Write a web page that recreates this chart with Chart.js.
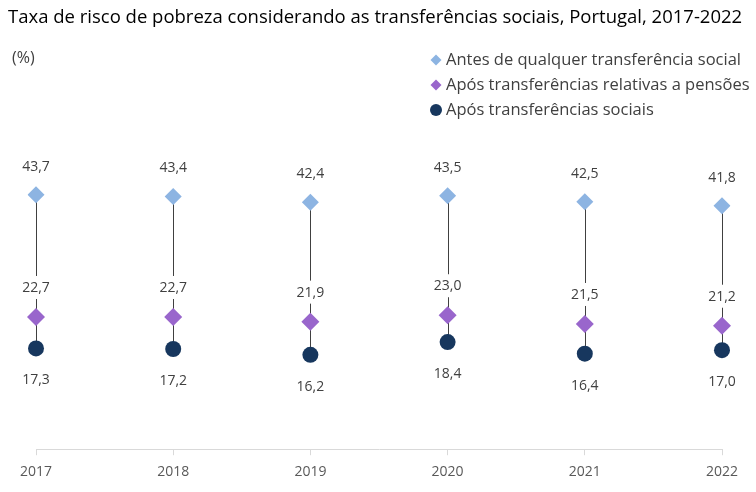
<!DOCTYPE html>
<html>
<head>
<meta charset="utf-8">
<script src="https://cdn.jsdelivr.net/npm/chart.js@4.4.0/dist/chart.umd.min.js"></script>
<style>
  body { margin: 0; background: #fff; }
  #wrap { width: 756px; height: 492px; }
</style>
</head>
<body>
<div id="wrap"><canvas id="chart" width="756" height="492"></canvas></div>
<script>
// Chart data
const years = ["2017", "2018", "2019", "2020", "2021", "2022"];
const beforeAny = [43.7, 43.4, 42.4, 43.5, 42.5, 41.8];
const afterPensions = [22.7, 22.7, 21.9, 23.0, 21.5, 21.2];
const afterSocial = [17.3, 17.2, 16.2, 18.4, 16.4, 17.0];
const seriesNames = [
    "Antes de qualquer transferência social",
    "Após transferências relativas a pensões",
    "Após transferências sociais"
];
const titleText = "Taxa de risco de pobreza considerando as transferências sociais, Portugal, 2017-2022";

const FONT = "'Open Sans', 'Noto Sans', sans-serif";
const fmt = v => v.toFixed(1).replace(".", ",");

// Title, unit, legend and the connecting lines / value labels
const decorations = {
    id: "decorations",
    beforeDatasetsDraw(chart) {
        const ctx = chart.ctx;
        const xs = chart.scales.x, ys = chart.scales.y;
        ctx.save();
        ctx.strokeStyle = "#404040";
        ctx.lineWidth = 1;
        years.forEach((yr, i) => {
            const x = Math.round(xs.getPixelForValue(i)) + 0.5;
            const yTop = ys.getPixelForValue(beforeAny[i]);
            const yMid = ys.getPixelForValue(afterPensions[i]);
            const yBot = ys.getPixelForValue(afterSocial[i]);
            const lab = yMid - 29;
            ctx.beginPath();
            ctx.moveTo(x, yTop);
            ctx.lineTo(x, lab - 12);
            ctx.moveTo(x, lab + 11);
            ctx.lineTo(x, yBot);
            ctx.stroke();
        });
        ctx.restore();
    },
    afterDraw(chart) {
        const ctx = chart.ctx;
        const xs = chart.scales.x, ys = chart.scales.y;
        ctx.save();
        ctx.fillStyle = "#000";
        ctx.font = "18.5px " + FONT;
        ctx.textBaseline = "middle";
        ctx.textAlign = "left";
        ctx.fillText(titleText, 8, 18);

        ctx.fillStyle = "#404040";
        ctx.font = "16px " + FONT;
        ctx.fillText("(%)", 12, 58);

        // legend
        const legendY = [60, 85, 110];
        const ds = chart.data.datasets;
        ds.forEach((d, i) => {
            const cy = legendY[i];
            ctx.fillStyle = d.backgroundColor;
            ctx.beginPath();
            if (d.pointStyle === "circle") {
                ctx.arc(436, cy, 6, 0, Math.PI * 2);
            } else {
                ctx.moveTo(436, cy - 5.5);
                ctx.lineTo(441.5, cy);
                ctx.lineTo(436, cy + 5.5);
                ctx.lineTo(430.5, cy);
                ctx.closePath();
            }
            ctx.fill();
            ctx.fillStyle = "#404040";
            ctx.font = "16.5px " + FONT;
            ctx.fillText(d.label, 446, cy);
        });

        // value labels
        ctx.font = "14px " + FONT;
        ctx.textAlign = "center";
        ctx.fillStyle = "#404040";
        years.forEach((yr, i) => {
            const x = xs.getPixelForValue(i);
            ctx.fillText(fmt(beforeAny[i]), x, ys.getPixelForValue(beforeAny[i]) - 28);
            ctx.fillText(fmt(afterPensions[i]), x, ys.getPixelForValue(afterPensions[i]) - 29);
            ctx.fillText(fmt(afterSocial[i]), x, ys.getPixelForValue(afterSocial[i]) + 32);
        });
        ctx.restore();
    }
};

new Chart(document.getElementById("chart"), {
    type: "line",
    data: {
        labels: years,
        datasets: [
            { label: seriesNames[0], data: beforeAny, showLine: false, pointStyle: "rectRot",
              pointRadius: 8.5, pointHoverRadius: 8.5, backgroundColor: "#8db4e2", borderColor: "#8db4e2", borderWidth: 0 },
            { label: seriesNames[1], data: afterPensions, showLine: false, pointStyle: "rectRot",
              pointRadius: 9, pointHoverRadius: 9, backgroundColor: "#9966cc", borderColor: "#9966cc", borderWidth: 0 },
            { label: seriesNames[2], data: afterSocial, showLine: false, pointStyle: "circle",
              pointRadius: 8, pointHoverRadius: 8, backgroundColor: "#17375e", borderColor: "#17375e", borderWidth: 0 }
        ]
    },
    options: {
        responsive: false,
        animation: false,
        layout: { padding: { top: 158, left: 36, right: 34, bottom: 4 } },
        plugins: {
            legend: { display: false },
            title: { display: false },
            tooltip: { enabled: false }
        },
        scales: {
            x: {
                offset: false,
                grid: { drawOnChartArea: false, drawTicks: true, tickLength: 6, color: "#d9d9d9" },
                border: { color: "#d9d9d9" },
                ticks: { color: "#595959", font: { family: FONT, size: 14 }, padding: 8, maxRotation: 0 }
            },
            y: {
                display: false,
                min: 0,
                max: 50
            }
        }
    },
    plugins: [decorations]
});
</script>
</body>
</html>
